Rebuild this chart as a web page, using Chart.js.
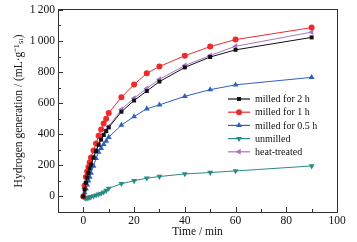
<!DOCTYPE html>
<html>
<head>
<meta charset="utf-8">
<script src="https://cdn.jsdelivr.net/npm/chart.js@4/dist/chart.umd.min.js"></script>
<style>
  html, body { margin: 0; padding: 0; background: #fff; }
  #wrap { width: 357px; height: 242px; }
</style>
</head>
<body>
<div id="wrap"><canvas id="hydrogen"></canvas></div>
<script>
// sampling times (min)
const times = [0, 0.5, 1, 1.5, 2, 2.5, 3, 4, 5, 6, 7, 8, 9, 10, 15, 20, 25, 30, 40, 50, 60, 90];

// hydrogen generation (mL/g Si)
const milled_2h  = [0, 45, 88, 122, 152, 180, 205, 250, 292, 332, 366, 395, 420, 444, 545, 617, 678, 739, 830, 897, 943, 1023];
const milled_1h  = [0, 70, 125, 160, 190, 220, 250, 295, 340, 390, 430, 470, 500, 537, 638, 720, 792, 836, 905, 964, 1009, 1086];
const milled_05h = [0, 25, 50, 75, 100, 125, 150, 195, 245, 285, 310, 335, 356, 381, 459, 514, 564, 589, 644, 687, 718, 766];
const unmilled   = [0, -8, -12, -10, -8, -5, -2, 3, 8, 14, 20, 28, 38, 52, 82, 101, 118, 128, 145, 154, 164, 196];
const heat_treated = [0, 50, 92, 126, 156, 184, 210, 255, 298, 338, 372, 400, 427, 450, 560, 632, 695, 754, 842, 907, 966, 1057];

const x_ticks = [0, 20, 40, 60, 80, 100];
const y_ticks = [0, 200, 400, 600, 800, 1000, 1200];

const serif = "'Liberation Serif', 'Times New Roman', serif";

function toPoints(vals) {
    return vals.map((v, i) => ({ x: times[i], y: v }));
}

function series(label, vals, colour, style, rotation, radius) {
    return {
        label: label,
        data: toPoints(vals),
        borderColor: colour,
        backgroundColor: colour,
        borderWidth: 1,
        pointStyle: style,
        pointRotation: rotation,
        pointRadius: radius,
        pointBorderWidth: 0,
        pointHoverRadius: radius,
        tension: 0
    };
}

const datasets = [
    series("milled for 2 h", milled_2h, "#111111", "rect", 0, 2.8),
    series("milled for 1 h", milled_1h, "#ee2b2b", "circle", 0, 3),
    series("milled for 0.5 h", milled_05h, "#2f5fbf", "triangle", 0, 3.4),
    series("unmilled", unmilled, "#2a8a84", "triangle", 180, 3.4),
    series("heat-treated", heat_treated, "#a874c4", "triangle", -90, 3.4)
];

// inward ticks and a line+marker legend, drawn on top of the plot
const decorations = {
    id: "decorations",
    afterDraw(chart) {
        const ctx = chart.ctx;
        const xs = chart.scales.x, ys = chart.scales.y;
        const a = chart.chartArea;
        ctx.save();
        ctx.strokeStyle = "#333";
        ctx.lineWidth = 1;
        ctx.beginPath();
        for (let v = 0; v <= 100; v += 10) {
            const px = Math.round(xs.getPixelForValue(v)) + 0.5;
            const len = v % 20 === 0 ? 5 : 3;
            ctx.moveTo(px, a.bottom); ctx.lineTo(px, a.bottom - len);
        }
        for (let v = -100; v <= 1200; v += 100) {
            const py = Math.round(ys.getPixelForValue(v)) + 0.5;
            const len = v % 200 === 0 ? 5 : 3;
            ctx.moveTo(a.left, py); ctx.lineTo(a.left + len, py);
        }
        ctx.stroke();

        // legend
        const lx = 228, ly = 99, step = 13.2;
        ctx.font = "10px " + serif;
        ctx.textBaseline = "middle";
        chart.data.datasets.forEach((ds, i) => {
            const y = ly + i * step;
            ctx.strokeStyle = ds.borderColor;
            ctx.lineWidth = 1.2;
            ctx.beginPath();
            ctx.moveTo(lx, y); ctx.lineTo(lx + 22, y);
            ctx.stroke();
            ctx.fillStyle = ds.backgroundColor;
            Chart.helpers.drawPoint(ctx, {
                pointStyle: ds.pointStyle,
                rotation: ds.pointRotation,
                radius: ds.pointRadius,
                borderWidth: 0
            }, lx + 11, y);
            ctx.fillStyle = "#111";
            ctx.fillText(ds.label, lx + 27, y + 0.5);
        });
        ctx.restore();
    }
};

const config = {
    type: "line",
    data: { datasets: datasets },
    options: {
        responsive: true,
        maintainAspectRatio: false,
        animation: false,
        layout: { padding: { left: 0, right: 20, top: 7, bottom: 0 } },
        plugins: {
            legend: { display: false },
            tooltip: { enabled: false }
        },
        scales: {
            x: {
                type: "linear",
                min: -10,
                max: 100,
                afterBuildTicks: (s) => { s.ticks = x_ticks.map(v => ({ value: v })); },
                afterFit: (s) => { s.height = 30; },
                grid: { display: false, drawTicks: false },
                border: { display: true, color: "#333", width: 1 },
                ticks: { color: "#111", font: { family: serif, size: 11.5 }, padding: 2, maxRotation: 0 },
                title: { display: true, text: "Time / min", color: "#111", font: { family: serif, size: 11.5 }, padding: { top: 0, bottom: 3 } }
            },
            y: {
                type: "linear",
                min: -100,
                max: 1200,
                afterBuildTicks: (s) => { s.ticks = y_ticks.map(v => ({ value: v })); },
                afterFit: (s) => { s.width = 58; },
                grid: { display: false, drawTicks: false },
                border: { display: true, color: "#333", width: 1 },
                ticks: {
                    color: "#111",
                    font: { family: serif, size: 11.5 },
                    padding: 3,
                    callback: (v) => v >= 1000 ? Math.floor(v / 1000) + "\u2009" + String(v % 1000).padStart(3, "0") : String(v)
                },
                title: { display: true, text: "Hydrogen generation / (mL\u00b7g\u207b\u00b9\u209b\u1d62)", color: "#111", font: { family: serif, size: 11.5 }, padding: { top: 12, bottom: 0 } }
            },
            x2: {
                type: "linear", position: "top", min: -10, max: 100,
                grid: { display: false, drawTicks: false }, ticks: { display: false },
                border: { display: true, color: "#333", width: 1 },
                afterFit: (s) => { s.height = 0; }
            },
            y2: {
                type: "linear", position: "right", min: -100, max: 1200,
                grid: { display: false, drawTicks: false }, ticks: { display: false },
                border: { display: true, color: "#333", width: 1 },
                afterFit: (s) => { s.width = 0; }
            }
        }
    },
    plugins: [decorations]
};

const line_chart = new Chart(document.getElementById("hydrogen").getContext("2d"), config);
</script>
</body>
</html>
